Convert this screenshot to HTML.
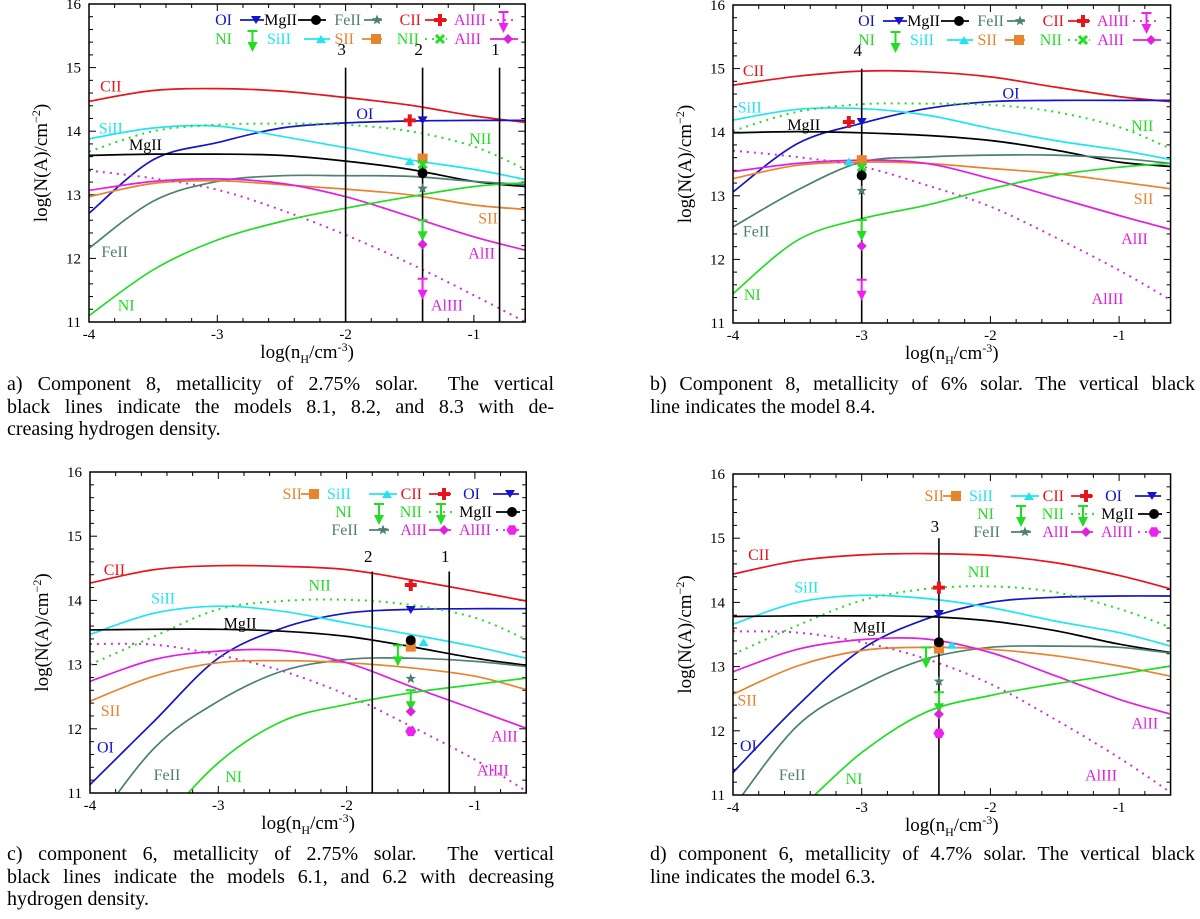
<!DOCTYPE html>
<html><head><meta charset="utf-8">
<style>
body{margin:0;background:#fff;width:1200px;height:919px;overflow:hidden;position:relative;font-family:"Liberation Serif",serif}
svg{position:absolute;left:0;top:0}
.cap{position:absolute;font-size:20px;line-height:22.5px;color:#000}
.cap div{text-align:justify;text-align-last:justify;white-space:nowrap}
.cap div.last{text-align-last:left}
</style></head><body>
<svg id="chart" width="1200" height="919"></svg>

<div class="cap" style="left:7px;top:373px;width:547px">
<div>a) Component 8, metallicity of 2.75% solar.&nbsp; The vertical</div>
<div>black lines indicate the models 8.1, 8.2, and 8.3 with de-</div>
<div class="last">creasing hydrogen density.</div></div>
<div class="cap" style="left:650px;top:373px;width:545px">
<div>b) Component 8, metallicity of 6% solar. The vertical black</div>
<div class="last">line indicates the model 8.4.</div></div>
<div class="cap" style="left:7px;top:843px;width:547px">
<div>c) component 6, metallicity of 2.75% solar.&nbsp; The vertical</div>
<div>black lines indicate the models 6.1, and 6.2 with decreasing</div>
<div class="last">hydrogen density.</div></div>
<div class="cap" style="left:650px;top:843px;width:545px">
<div>d) component 6, metallicity of 4.7% solar. The vertical black</div>
<div class="last">line indicates the model 6.3.</div></div>

<script>
// ---- data ----
const xs = [-4,-3.5,-3,-2.5,-2,-1.5,-1,-0.6];
const species = ["CII","OI","SiII","NII","MgII","FeII","SII","AlII","AlIII","NI"];
// panel a
const a_CII=[14.47,14.64,14.67,14.63,14.53,14.41,14.24,14.14];
const a_OI=[12.71,13.55,13.82,14.05,14.13,14.16,14.17,14.17];
const a_SiII=[13.88,14.05,14.08,13.92,13.74,13.55,13.40,13.24];
const a_NII=[13.68,14.0,14.1,14.12,14.1,14.0,13.76,13.4];
const a_MgII=[13.62,13.64,13.64,13.62,13.53,13.40,13.21,13.13];
const a_FeII=[12.16,12.9,13.21,13.3,13.3,13.29,13.21,13.16];
const a_SII=[12.97,13.18,13.22,13.16,13.09,13.0,12.84,12.77];
const a_AlII=[13.07,13.21,13.25,13.18,12.97,12.66,12.34,12.13];
const a_AlIII=[13.38,13.26,13.08,12.76,12.37,11.92,11.42,11.0];
const a_NI=[11.1,11.82,12.29,12.58,12.79,12.97,13.13,13.19];
// panel b
const b_CII=[14.74,14.88,14.96,14.95,14.87,14.71,14.56,14.48];
const b_OI=[13.06,13.82,14.14,14.37,14.48,14.5,14.5,14.5];
const b_SiII=[14.19,14.36,14.37,14.27,14.06,13.87,13.72,13.57];
const b_NII=[14.02,14.32,14.44,14.45,14.43,14.32,14.08,13.74];
const b_MgII=[13.99,14.01,13.99,13.95,13.87,13.72,13.53,13.46];
const b_FeII=[12.51,13.09,13.53,13.61,13.64,13.64,13.59,13.51];
const b_SII=[13.27,13.48,13.53,13.51,13.43,13.35,13.22,13.11];
const b_AlII=[13.38,13.51,13.56,13.51,13.27,12.98,12.69,12.47];
const b_AlIII=[13.71,13.61,13.46,13.17,12.83,12.35,11.83,11.36];
const b_NI=[11.46,12.3,12.64,12.85,13.11,13.32,13.45,13.51];
// panel c
const c_CII=[14.27,14.48,14.54,14.53,14.48,14.32,14.14,13.99];
const c_OI=[11.13,12.12,13.1,13.57,13.8,13.86,13.87,13.87];
const c_SiII=[13.47,13.8,13.91,13.83,13.65,13.47,13.28,13.1];
const c_NII=[13.0,13.44,13.86,13.99,14.01,13.93,13.73,13.39];
const c_MgII=[13.54,13.55,13.55,13.52,13.44,13.28,13.1,12.99];
const c_FeII=[10.4,11.7,12.43,12.9,13.08,13.1,13.05,12.97];
const c_SII=[12.43,12.82,13.03,13.06,13.03,12.95,12.82,12.61];
const c_AlII=[12.74,13.08,13.21,13.22,13.03,12.66,12.3,12.01];
const c_AlIII=[13.32,13.31,13.15,12.9,12.53,12.04,11.52,11.03];
const c_NI=[9.3,10.4,11.47,12.12,12.38,12.56,12.69,12.79];
// panel d
const d_CII=[14.44,14.65,14.74,14.76,14.73,14.62,14.42,14.21];
const d_OI=[11.35,12.39,13.27,13.74,14.0,14.08,14.1,14.1];
const d_SiII=[13.66,14.0,14.11,14.06,13.92,13.71,13.53,13.32];
const d_NII=[13.19,13.64,14.03,14.21,14.25,14.16,13.9,13.61];
const d_MgII=[13.78,13.79,13.79,13.78,13.71,13.56,13.35,13.22];
const d_FeII=[10.8,12.08,12.7,13.12,13.3,13.32,13.3,13.21];
const d_SII=[12.57,13.01,13.25,13.3,13.27,13.17,13.01,12.85];
const d_AlII=[12.92,13.27,13.42,13.43,13.22,12.86,12.49,12.26];
const d_AlIII=[13.55,13.53,13.38,13.12,12.73,12.18,11.58,11.04];
const d_NI=[9.9,10.75,11.66,12.29,12.55,12.73,12.88,13.01];
// observations
const obsSpecies=["CII","OI","SiII","SII","NII","MgII","FeII","NI","AlII","AlIII"];
const a_obsX=[-1.5,-1.4,-1.5,-1.4,-1.4,-1.4,-1.4,-1.4,-1.4,-1.4];
const a_obsY=[14.17,14.17,13.53,13.57,13.48,13.34,13.1,12.6,12.22,11.68];
const b_obsX=[-3.1,-3,-3.1,-3,-3,-3,-3,-3,-3,-3];
const b_obsY=[14.16,14.16,13.54,13.56,13.45,13.32,13.08,12.62,12.21,11.68];
const c_obsX=[-1.5,-1.5,-1.4,-1.5,-1.6,-1.5,-1.5,-1.5,-1.5,-1.5];
const c_obsY=[14.24,13.85,13.35,13.28,13.3,13.38,12.78,12.6,12.27,11.96];
const d_obsX=[-2.4,-2.4,-2.3,-2.4,-2.5,-2.4,-2.4,-2.4,-2.4,-2.4];
const d_obsY=[14.23,13.82,13.34,13.28,13.3,13.38,12.77,12.6,12.26,11.96];
// model lines
const a_models=[-2,-1.4,-0.8], a_modelNames=["3","2","1"];
const b_models=[-3], b_modelNames=["4"];
const c_models=[-1.8,-1.2], c_modelNames=["2","1"];
const d_models=[-2.4], d_modelNames=["3"];

// ---- style ----
const COL={CII:"#e8141b",OI:"#1414c8",SiII:"#22e4f0",NII:"#22dd22",MgII:"#000",FeII:"#4d7f74",SII:"#e8832e",AlII:"#e020e0",AlIII:"#cc33cc",NI:"#22dd22"};
const DASH={NII:"2,5",AlIII:"2,5"};
const NS="http://www.w3.org/2000/svg";
const svg=document.getElementById("chart");
function el(tag,attrs,parent){const e=document.createElementNS(NS,tag);for(const k in attrs)e.setAttribute(k,attrs[k]);(parent||svg).appendChild(e);return e;}

const panels=[
 {id:"a",ox:89,ux:128.3,oy:4,uy:63.6,curves:{CII:a_CII,OI:a_OI,SiII:a_SiII,NII:a_NII,MgII:a_MgII,FeII:a_FeII,SII:a_SII,AlII:a_AlII,AlIII:a_AlIII,NI:a_NI},
  ox2:a_obsX,oy2:a_obsY,models:a_models,mnames:a_modelNames,mtop:15,mlab:15.2,type:1,
  labels:[["CII",-3.83,14.7],["SiII",-3.83,14.04],["MgII",-3.56,13.78],["FeII",-3.8,12.1],["NI",-3.71,11.26],["OI",-1.85,14.27],["NII",-0.95,13.88],["SII",-0.89,12.63],["AlII",-0.94,12.08],["AlIII",-1.21,11.26]]},
 {id:"b",ox:733,ux:128.7,oy:5,uy:63.6,curves:{CII:b_CII,OI:b_OI,SiII:b_SiII,NII:b_NII,MgII:b_MgII,FeII:b_FeII,SII:b_SII,AlII:b_AlII,AlIII:b_AlIII,NI:b_NI},
  ox2:b_obsX,oy2:b_obsY,models:b_models,mnames:b_modelNames,mtop:15,mlab:15.2,type:1,
  labels:[["CII",-3.84,14.96],["SiII",-3.87,14.39],["MgII",-3.45,14.11],["FeII",-3.82,12.44],["NI",-3.85,11.44],["OI",-1.84,14.61],["NII",-0.82,14.1],["SII",-0.81,12.95],["AlII",-0.88,12.32],["AlIII",-1.09,11.38]]},
 {id:"c",ox:90,ux:128.3,oy:472,uy:64.2,curves:{CII:c_CII,OI:c_OI,SiII:c_SiII,NII:c_NII,MgII:c_MgII,FeII:c_FeII,SII:c_SII,AlII:c_AlII,AlIII:c_AlIII,NI:c_NI},
  ox2:c_obsX,oy2:c_obsY,models:c_models,mnames:c_modelNames,mtop:14.45,mlab:14.6,type:2,
  labels:[["CII",-3.81,14.47],["SiII",-3.43,14.03],["MgII",-2.83,13.64],["NII",-2.21,14.23],["SII",-3.84,12.28],["OI",-3.88,11.71],["FeII",-3.4,11.28],["NI",-2.88,11.25],["AlII",-0.77,11.88],["AlIII",-0.86,11.35]]},
 {id:"d",ox:733,ux:128.7,oy:474,uy:64.2,curves:{CII:d_CII,OI:d_OI,SiII:d_SiII,NII:d_NII,MgII:d_MgII,FeII:d_FeII,SII:d_SII,AlII:d_AlII,AlIII:d_AlIII,NI:d_NI},
  ox2:d_obsX,oy2:d_obsY,models:d_models,mnames:d_modelNames,mtop:15,mlab:15.1,type:2,
  labels:[["CII",-3.8,14.74],["SiII",-3.43,14.23],["MgII",-2.94,13.61],["NII",-2.09,14.47],["SII",-3.89,12.47],["OI",-3.88,11.76],["FeII",-3.54,11.31],["NI",-3.06,11.25],["AlII",-0.8,12.11],["AlIII",-1.14,11.3]]}
];

function marker(g,kind,x,y,c){
 let m;
 if(kind==="tdown") m=el("path",{d:`M${x-5},${y-4}L${x+5},${y-4}L${x},${y+4}Z`,fill:c},g);
 else if(kind==="tup") m=el("path",{d:`M${x-5},${y+4}L${x+5},${y+4}L${x},${y-4}Z`,fill:c},g);
 else if(kind==="circle") m=el("circle",{cx:x,cy:y,r:5,fill:c},g);
 else if(kind==="square") m=el("rect",{x:x-5,y:y-5,width:10,height:10,fill:c},g);
 else if(kind==="plus") m=el("path",{d:`M${x-6},${y}H${x+6}M${x},${y-6}V${y+6}`,stroke:c,"stroke-width":4,fill:"none"},g);
 else if(kind==="cross") m=el("path",{d:`M${x-4},${y-4}L${x+4},${y+4}M${x+4},${y-4}L${x-4},${y+4}`,stroke:c,"stroke-width":3,fill:"none"},g);
 else if(kind==="diamond") m=el("path",{d:`M${x},${y-5}L${x+5},${y}L${x},${y+5}L${x-5},${y}Z`,fill:c},g);
 else if(kind==="hex"){let p="";for(let i=0;i<6;i++){const a=Math.PI/3*i;p+=(i?"L":"M")+(x+5.5*Math.cos(a))+","+(y+5.5*Math.sin(a));}m=el("path",{d:p+"Z",fill:c},g);}
 else if(kind==="star"){let p="";for(let i=0;i<10;i++){const r=i%2?2.3:5.5,a=-Math.PI/2+Math.PI/5*i;p+=(i?"L":"M")+(x+r*Math.cos(a)).toFixed(1)+","+(y+r*Math.sin(a)).toFixed(1);}m=el("path",{d:p+"Z",fill:c},g);}
 else if(kind==="limit"){m=el("path",{d:`M${x-5},${y}H${x+5}M${x},${y}V${y+17}`,stroke:c,"stroke-width":2,fill:"none"},g);
   el("path",{d:`M${x-5},${y+11}L${x+5},${y+11}L${x},${y+21}Z`,fill:c},g);}
 return m;
}
function markerKind(sp,type){
 const base={CII:"plus",OI:"tdown",SiII:"tup",SII:"square",MgII:"circle",FeII:"star",AlII:"diamond",NI:"limit"};
 if(sp in base) return base[sp];
 if(sp==="NII") return type===1?"cross":"limit";
 if(sp==="AlIII") return type===1?"limit":"hex";
}
function smooth(pts){
 let d=`M${pts[0][0]},${pts[0][1]}`;
 for(let i=0;i<pts.length-1;i++){
  const p0=pts[Math.max(0,i-1)],p1=pts[i],p2=pts[i+1],p3=pts[Math.min(pts.length-1,i+2)];
  const c1=[p1[0]+(p2[0]-p0[0])/6,p1[1]+(p2[1]-p0[1])/6],c2=[p2[0]-(p3[0]-p1[0])/6,p2[1]-(p3[1]-p1[1])/6];
  d+=`C${c1[0].toFixed(1)},${c1[1].toFixed(1)} ${c2[0].toFixed(1)},${c2[1].toFixed(1)} ${p2[0].toFixed(1)},${p2[1].toFixed(1)}`;
 }
 return d;
}

panels.forEach(p=>{
 const sx=x=>p.ox+(x+4)*p.ux, sy=v=>p.oy+(16-v)*p.uy;
 const L=sx(-4),R=sx(-0.6),T=sy(16),B=sy(11);
 const g=el("g",{});
 
 
 const cp=el("clipPath",{id:"clip"+p.id},g);
 el("rect",{x:L,y:T,width:R-L,height:B-T},cp);
 const tg=el("g",{stroke:"#000","stroke-width":1},g);
 for(let i=0;i<=17;i++){const v=-4+i*0.2,x=sx(v),maj=Math.abs(v-Math.round(v))<1e-6,len=maj?7:4;
  el("line",{x1:x,x2:x,y1:B,y2:B-len},tg);el("line",{x1:x,x2:x,y1:T,y2:T+len},tg);
  if(maj){const t=el("text",{x:x,y:B+17,"font-size":15,"text-anchor":"middle","font-family":"Liberation Serif, serif",stroke:"none"},g);t.textContent=Math.round(v);
   }}
 for(let i=0;i<=25;i++){const v=11+i*0.2,y=sy(v),maj=Math.abs(v-Math.round(v))<1e-6,len=maj?7:4;
  el("line",{x1:L,x2:L+len,y1:y,y2:y},tg);el("line",{x1:R,x2:R-len,y1:y,y2:y},tg);
  if(maj){const t=el("text",{x:L-8,y:y+5,"font-size":15,"text-anchor":"end","font-family":"Liberation Serif, serif"},g);t.textContent=Math.round(v);
   }}
 const cg=el("g",{"clip-path":`url(#clip${p.id})`,fill:"none"},g);
 species.forEach(sp=>{
  const pts=xs.map((x,i)=>[sx(x),sy(p.curves[sp][i])]);
  const path=el("path",{d:smooth(pts),stroke:COL[sp],"stroke-width":1.7},cg);
  if(DASH[sp]){path.setAttribute("stroke-dasharray",DASH[sp]);path.setAttribute("stroke-width",2);}
  
  
 });
 p.models.forEach((m,i)=>{
  const ln=el("line",{x1:sx(m),x2:sx(m),y1:sy(p.mtop),y2:B,stroke:"#000","stroke-width":1.6},g);
  
  
  const t=el("text",{x:sx(m)-4,y:sy(p.mlab),"font-size":17,"text-anchor":"middle","font-family":"Liberation Serif, serif"},g);
  t.textContent=p.mnames[i];
  
  
 });
 obsSpecies.forEach((sp,i)=>{
  const mk=marker(g,markerKind(sp,p.type),sx(p.ox2[i]),sy(p.oy2[i]),COL[sp]==="#cc33cc"?"#ee22ee":COL[sp]);
  
  
 });
 p.labels.forEach(l=>{
  const t=el("text",{x:sx(l[1]),y:sy(l[2])+5,"font-size":16,"text-anchor":"middle",fill:COL[l[0]]==="#cc33cc"?"#e020e0":COL[l[0]],"font-family":"Liberation Serif, serif"},g);
  t.textContent=l[0];
  
  
 });
 el("rect",{x:L,y:T,width:R-L,height:B-T,fill:"none",stroke:"#000","stroke-width":1.5},g);
 const yt=el("text",{x:0,y:0,"font-size":19,"text-anchor":"middle","font-family":"Liberation Serif, serif",transform:`translate(${L-42},${(T+B)/2}) rotate(-90)`},g);
 yt.innerHTML='log(N(A)/cm<tspan dy="-7" font-size="12">−2</tspan><tspan dy="7">)</tspan>';
 
 
 const xt=el("text",{x:sx(-2.3),y:B+36,"font-size":19,"text-anchor":"middle","font-family":"Liberation Serif, serif"},g);
 xt.innerHTML='log(n<tspan dy="5" font-size="12">H</tspan><tspan dy="-5">/cm</tspan><tspan dy="-7" font-size="12">-3</tspan><tspan dy="7">)</tspan>';
 
 
 const lg=el("g",{"font-family":"Liberation Serif, serif","font-size":16},g);
 
 
 let items;
 if(p.type===1){
  const r1=T+16,r2=T+35;
  items=[["OI",232,r1,240,264],["MgII",297,r1,298,326],["FeII",361,r1,364,382],["CII",421,r1,425,447],["AlIII",486,r1,490,517],
         ["NI",232,r2,243,262],["SiII",291,r2,304,330],["SII",354,r2,362,382],["NII",419,r2,425,447],["AlII",481,r2,490,518]];
 } else {
  const r1=T+22,r2=T+40,r3=T+58;
  items=[["SII",301,r1,300,318],["SiII",350,r1,368,396],["CII",421,r1,428,450],["OI",479,r1,492,518],
         ["NI",351,r2,368,388],["NII",421,r2,428,452],["MgII",491,r2,495,519],
         ["FeII",357,r3,368,388],["AlII",426,r3,428,450],["AlIII",490,r3,495,519]];
 }
 const shift=(p.ox>600?643:0)+(p.id==="c"?1:0);
 items.forEach(it=>{
  const [sp,tx,ty,l1,l2]=it;
  const c=COL[sp]==="#cc33cc"?"#e020e0":COL[sp];
  const t=el("text",{x:tx+shift,y:ty+5,"text-anchor":"end",fill:c},lg);
  t.textContent=sp;
  
  
  const kind=markerKind(sp,p.type);
  if(kind!=="limit"||DASH[sp]){
   const ln=el("line",{x1:l1+shift,x2:l2+shift,y1:ty,y2:ty,stroke:COL[sp],"stroke-width":1.7},lg);
   if(DASH[sp]) ln.setAttribute("stroke-dasharray",DASH[sp]);
  }
  const mx=(l1+l2)/2+shift+(kind==="limit"?0:4);
  marker(lg,kind,mx,kind==="limit"?ty-8:ty,COL[sp]==="#cc33cc"?"#ee22ee":COL[sp]);
 });
});
</script>
</body></html>
